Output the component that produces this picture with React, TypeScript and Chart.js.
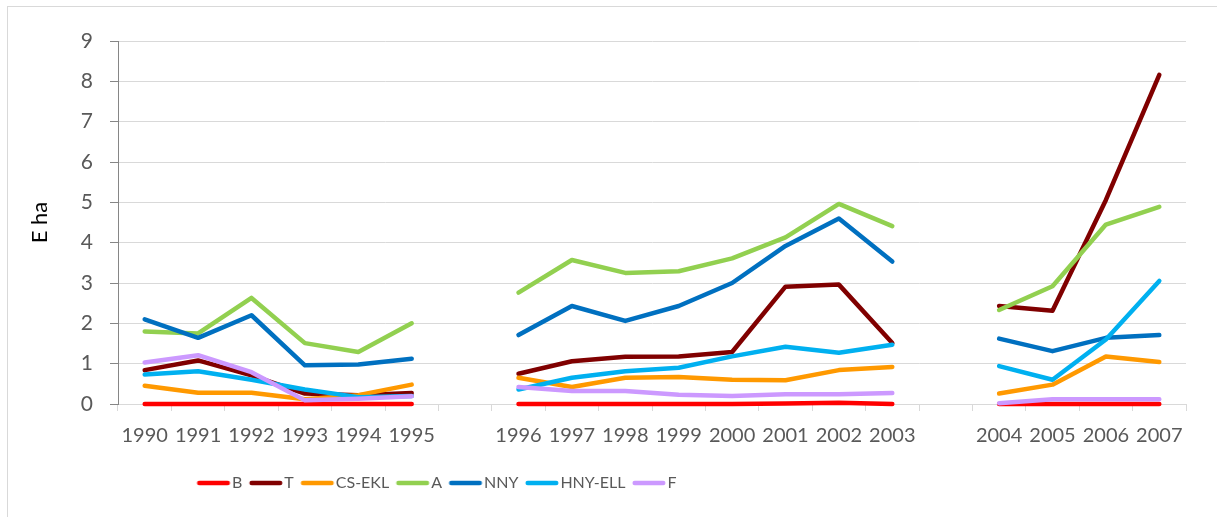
import { useEffect, useRef } from 'react';
import { Chart, registerables } from 'chart.js';

Chart.register(...registerables);

// ---- data ----
const categories = ['1990', '1991', '1992', '1993', '1994', '1995', '', '1996', '1997', '1998', '1999', '2000', '2001', '2002', '2003', '', '2004', '2005', '2006', '2007'];

const seriesNames = ['B', 'T', 'CS-EKL', 'A', 'NNY', 'HNY-ELL', 'F'];

const valuesB = [0, 0, 0, 0, 0, 0, null, 0, 0, 0, 0, 0, 0.01, 0.03, 0, null, 0, 0, 0, 0];
const valuesT = [0.84, 1.08, 0.71, 0.26, 0.22, 0.27, null, 0.75, 1.06, 1.17, 1.18, 1.29, 2.91, 2.96, 1.51, null, 2.43, 2.31, 5.06, 8.16];
const valuesCSEKL = [0.45, 0.28, 0.28, 0.12, 0.22, 0.48, null, 0.65, 0.42, 0.65, 0.67, 0.6, 0.59, 0.84, 0.92, null, 0.26, 0.48, 1.18, 1.04];
const valuesA = [1.8, 1.75, 2.63, 1.51, 1.29, 2.0, null, 2.76, 3.57, 3.25, 3.29, 3.61, 4.13, 4.96, 4.41, null, 2.33, 2.92, 4.45, 4.89];
const valuesNNY = [2.1, 1.64, 2.2, 0.96, 0.98, 1.12, null, 1.71, 2.43, 2.06, 2.43, 3.0, 3.92, 4.6, 3.53, null, 1.62, 1.31, 1.64, 1.71];
const valuesHNYELL = [0.73, 0.81, 0.6, 0.36, 0.17, 0.2, null, 0.36, 0.65, 0.81, 0.9, 1.18, 1.42, 1.27, 1.47, null, 0.94, 0.6, 1.6, 3.05];
const valuesF = [1.03, 1.21, 0.79, 0.09, 0.13, 0.19, null, 0.42, 0.32, 0.32, 0.23, 0.2, 0.24, 0.24, 0.27, null, 0.02, 0.12, 0.12, 0.12];

const seriesValues = [valuesB, valuesT, valuesCSEKL, valuesA, valuesNNY, valuesHNYELL, valuesF];
const seriesColors = ['#FF0000', '#800000', '#FF9900', '#92D050', '#0070C0', '#00B0F0', '#CC99FF'];

const yTicks = [0, 1, 2, 3, 4, 5, 6, 7, 8, 9];
const yTitle = 'E ha';

// ---- style ----
const LINE_W = 4.5;
const LEG_FONT = 16;
const LEG_BOX = 27;
const LEG_X = 189;

function makeSwatch(color: string) {
  const c = document.createElement('canvas');
  c.width = 80;
  c.height = 10;
  const ctx = c.getContext('2d')!;
  ctx.strokeStyle = color;
  ctx.lineWidth = LINE_W;
  ctx.lineCap = 'round';
  ctx.beginPath();
  const half = LEG_BOX / 2;
  const start = 40 - half + LINE_W / 2;
  const end = 40 - half + (LEG_BOX + LEG_FONT / 2 - 2) - LINE_W / 2;
  ctx.moveTo(start, 5);
  ctx.lineTo(end, 5);
  ctx.stroke();
  return c;
}

export default function App() {
  const ref = useRef<HTMLCanvasElement>(null);

  useEffect(() => {
    if (!ref.current) return;
    const swatches = seriesColors.map(makeSwatch);
    const legendShift = {
      id: 'legendShift',
      afterLayout(chart: any) {
        const lg = chart.legend;
        if (lg) {
          lg.left = LEG_X - lg.options.labels.padding;
        }
      },
    };
    const chart = new Chart(ref.current, {
      type: 'line',
      data: {
        labels: categories,
        datasets: seriesNames.map((name, i) => ({
          label: name,
          data: seriesValues[i],
          borderColor: seriesColors[i],
          backgroundColor: seriesColors[i],
          borderWidth: LINE_W,
          borderCapStyle: 'round',
          borderJoinStyle: 'round',
          pointRadius: 0,
          pointHoverRadius: 0,
          tension: 0,
          spanGaps: false,
          clip: false,
          order: seriesNames.length - i,
        })),
      },
      options: {
        responsive: false,
        animation: false,
        events: [],
        layout: { padding: { left: 0, top: 34, right: 31, bottom: 16 } },
        plugins: {
          tooltip: { enabled: false },
          legend: {
            position: 'bottom',
            align: 'start',
            labels: {
              usePointStyle: true,
              pointStyleWidth: LEG_BOX,
              padding: 7,
              color: '#595959',
              font: { family: 'Lato', size: LEG_FONT },
              sort: (a: any, b: any) => a.datasetIndex - b.datasetIndex,
              generateLabels(chart: any) {
                const items = Chart.defaults.plugins.legend.labels.generateLabels(chart);
                return items.map((it: any) => ({ ...it, pointStyle: swatches[it.datasetIndex] }));
              },
            },
          },
        },
        scales: {
          x: {
            type: 'category',
            offset: true,
            afterFit(scale: any) {
              scale.height = 64;
            },
            grid: {
              display: true,
              drawOnChartArea: false,
              drawTicks: true,
              tickLength: 7,
              offset: true,
              color: '#d9d9d9',
              tickColor: '#d9d9d9',
            },
            border: { display: true, color: '#d9d9d9', width: 1 },
            ticks: {
              autoSkip: false,
              maxRotation: 0,
              minRotation: 0,
              padding: 13,
              color: '#595959',
              font: { family: 'Lato', size: 20 },
            },
          },
          y: {
            min: 0,
            max: 9,
            afterFit(scale: any) {
              scale.width = 110;
            },
            afterBuildTicks(scale: any) {
              scale.ticks = yTicks.map((v) => ({ value: v }));
            },
            grid: {
              color: '#d9d9d9',
              lineWidth: 1,
              drawTicks: true,
              tickLength: 8,
              tickColor: '#868686',
            },
            border: { display: true, color: '#868686', width: 1 },
            ticks: {
              padding: 17,
              color: '#595959',
              font: { family: 'Lato', size: 21 },
            },
            title: {
              display: true,
              text: yTitle,
              color: '#000000',
              font: { family: 'Lato', size: 22 },
              padding: { top: 19, bottom: 0 },
            },
          },
        },
      },
      plugins: [legendShift],
    } as any);
    return () => chart.destroy();
  }, []);

  return (
    <div style={{ position: 'fixed', left: 0, top: 0, width: 1217, height: 517, overflow: 'hidden', background: '#fff' }}>
      <div
        style={{
          position: 'absolute',
          left: 7,
          top: 6,
          width: 1240,
          height: 540,
          border: '1px solid #d9d9d9',
          boxSizing: 'border-box',
        }}
      >
        <canvas ref={ref} width={1209} height={510} style={{ display: 'block', width: 1209, height: 510 }} />
      </div>
    </div>
  );
}
